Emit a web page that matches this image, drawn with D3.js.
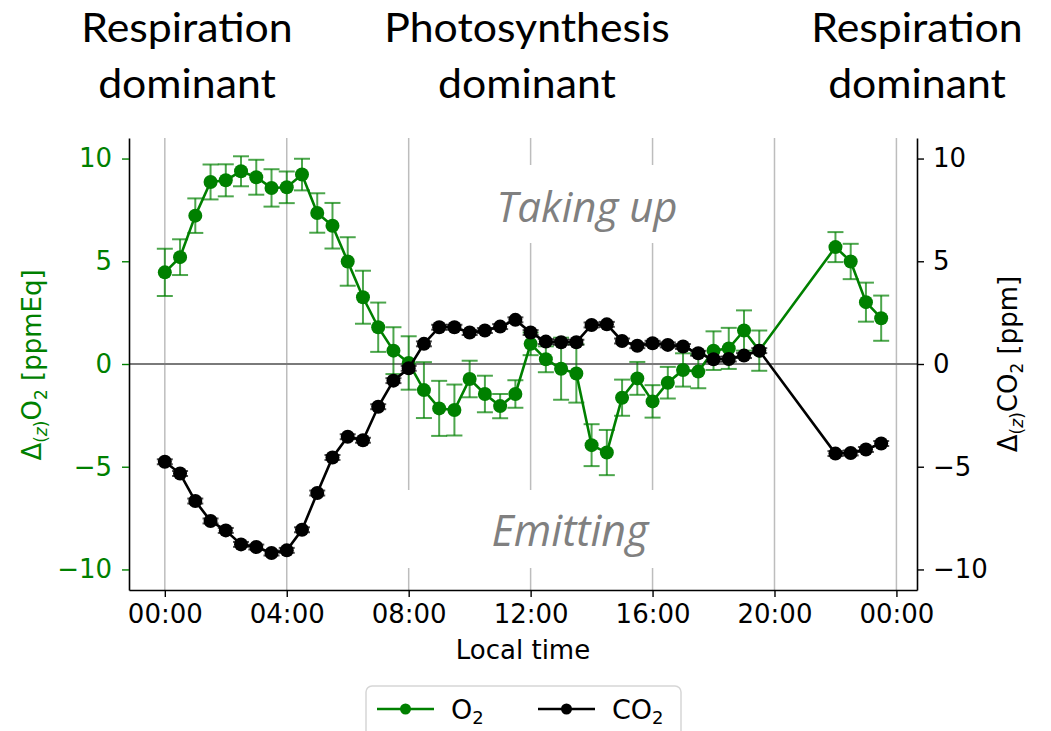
<!DOCTYPE html>
<html>
<head>
<meta charset="utf-8">
<script src="https://cdn.jsdelivr.net/npm/d3@7"></script>
<style>
  body { margin: 0; background: #fff; }
  svg { display: block; }
</style>
</head>
<body>
<svg id="chart" width="1051" height="731"></svg>
<script>
// Half-hourly vertical differences of O2 and CO2 over one day (local time, hours)
const hours = [0, 0.5, 1, 1.5, 2, 2.5, 3, 3.5, 4, 4.5, 5, 5.5, 6, 6.5, 7, 7.5, 8, 8.5, 9, 9.5,
               10, 10.5, 11, 11.5, 12, 12.5, 13, 13.5, 14, 14.5, 15, 15.5, 16, 16.5, 17, 17.5,
               18, 18.5, 19, 19.5, 22, 22.5, 23, 23.5];
const o2 = [4.46, 5.20, 7.22, 8.86, 8.94, 9.38, 9.09, 8.57, 8.60, 9.22, 7.35, 6.73, 4.99, 3.25,
            1.79, 0.65, 0.05, -1.27, -2.16, -2.24, -0.73, -1.46, -2.05, -1.46, 0.98, 0.23, -0.23,
            -0.46, -3.95, -4.31, -1.64, -0.70, -1.82, -0.91, -0.29, -0.37, 0.65, 0.76, 1.63, 0.65,
            5.69, 4.99, 3.01, 2.23];
const o2Err = [1.15, 0.87, 0.84, 0.85, 0.78, 0.73, 0.85, 0.91, 0.77, 0.77, 0.96, 1.11, 1.18, 1.29,
               1.20, 1.14, 1.30, 1.36, 1.34, 1.24, 0.89, 0.89, 0.59, 0.67, 0.55, 0.63, 1.51, 1.42,
               1.02, 1.10, 0.88, 0.80, 0.79, 0.77, 0.81, 0.81, 0.94, 1.00, 0.98, 0.98, 0.73, 0.86,
               0.95, 1.10];
const co2 = [-4.76, -5.33, -6.67, -7.64, -8.10, -8.78, -8.91, -9.20, -9.07, -8.07, -6.28, -4.55,
             -3.54, -3.71, -2.08, -0.81, -0.21, 0.98, 1.79, 1.79, 1.53, 1.63, 1.82, 2.15, 1.53, 1.09,
             1.06, 1.06, 1.90, 1.93, 1.12, 0.89, 1.01, 0.93, 0.85, 0.52, 0.23, 0.24, 0.41, 0.65,
             -4.36, -4.33, -4.16, -3.87];
const co2Err = [0.12, 0.12, 0.12, 0.12, 0.12, 0.12, 0.12, 0.12, 0.12, 0.12, 0.12, 0.12, 0.12, 0.12,
                0.12, 0.12, 0.12, 0.12, 0.12, 0.12, 0.12, 0.12, 0.12, 0.12, 0.12, 0.12, 0.12, 0.12,
                0.12, 0.12, 0.12, 0.12, 0.12, 0.12, 0.12, 0.12, 0.12, 0.12, 0.12, 0.12, 0.12, 0.12,
                0.12, 0.12];

const xTickHours = [0, 4, 8, 12, 16, 20, 24];
const xTickLabels = ["00:00", "04:00", "08:00", "12:00", "16:00", "20:00", "00:00"];
const yTickValues = [-10, -5, 0, 5, 10];

const phaseTitles = [["Respiration", "dominant"], ["Photosynthesis", "dominant"], ["Respiration", "dominant"]];
const regionLabels = ["Taking up", "Emitting"];

const GREEN = "#008000";
const AXIS_FONT = "DejaVu Sans, sans-serif";

const svg = d3.select("#chart");
const plot = { left: 129, right: 917, top: 138, bottom: 590 };

const x = d3.scaleLinear().domain([-1.175, 24.675]).range([plot.left, plot.right]);
const yL = d3.scaleLinear().domain([-11, 11]).range([plot.bottom, plot.top]);
const yR = d3.scaleLinear().domain([-11, 11]).range([plot.bottom, plot.top]);

// vertical grid at the time ticks
const grid = svg.append("g");
grid.selectAll("line").data(xTickHours).join("line")
  .attr("x1", d => x(d)).attr("x2", d => x(d))
  .attr("y1", plot.top).attr("y2", plot.bottom)
  .attr("stroke", "#bdbdbd").attr("stroke-width", 1.5);

// zero reference line
svg.append("line")
  .attr("x1", plot.left).attr("x2", plot.right)
  .attr("y1", yL(0)).attr("y2", yL(0))
  .attr("stroke", "#7a7a7a").attr("stroke-width", 2.2);

// region annotations with white backgrounds over the grid
const regions = [
  { text: regionLabels[0], cx: 587, cy: 205, size: 42, box: [470, 165, 230, 78] },
  { text: regionLabels[1], cx: 570, cy: 529, size: 43, box: [398, 490, 345, 78] }
];
regions.forEach(r => {
  svg.append("rect").attr("x", r.box[0]).attr("y", r.box[1])
    .attr("width", r.box[2]).attr("height", r.box[3]).attr("fill", "#fff");
  svg.append("text").attr("x", r.cx).attr("y", r.cy)
    .attr("text-anchor", "middle").attr("dominant-baseline", "central")
    .attr("font-family", "Open Sans, sans-serif").attr("font-style", "italic")
    .attr("font-size", r.size).attr("fill", "#808080").text(r.text);
});

// axes
const xAxis = svg.append("g").attr("transform", `translate(0,${plot.bottom})`)
  .call(d3.axisBottom(x).tickValues(xTickHours).tickFormat((d, i) => xTickLabels[i])
    .tickSize(7).tickPadding(8).tickSizeOuter(0));
xAxis.select(".domain").attr("stroke", "#000").attr("stroke-width", 1.6);
xAxis.selectAll(".tick line").attr("stroke", "#000").attr("stroke-width", 1.4);
xAxis.selectAll(".tick text").attr("font-family", AXIS_FONT).attr("font-size", 26).attr("fill", "#000");

const yAxisL = svg.append("g").attr("transform", `translate(${plot.left},0)`)
  .call(d3.axisLeft(yL).tickValues(yTickValues).tickSize(7).tickPadding(10).tickSizeOuter(0));
yAxisL.select(".domain").attr("stroke", "#000").attr("stroke-width", 1.6);
yAxisL.selectAll(".tick line").attr("stroke", GREEN).attr("stroke-width", 1.4);
yAxisL.selectAll(".tick text").attr("font-family", AXIS_FONT).attr("font-size", 26).attr("fill", GREEN);

const yAxisR = svg.append("g").attr("transform", `translate(${plot.right},0)`)
  .call(d3.axisRight(yR).tickValues(yTickValues).tickSize(7).tickPadding(9).tickSizeOuter(0));
yAxisR.select(".domain").attr("stroke", "#000").attr("stroke-width", 1.6);
yAxisR.selectAll(".tick line").attr("stroke", "#000").attr("stroke-width", 1.4);
yAxisR.selectAll(".tick text").attr("font-family", AXIS_FONT).attr("font-size", 26).attr("fill", "#000");

// axis titles
svg.append("text").attr("x", (plot.left + plot.right) / 2).attr("y", 659)
  .attr("text-anchor", "middle").attr("font-family", AXIS_FONT).attr("font-size", 26)
  .attr("fill", "#000").text("Local time");

function deltaLabel(g, gas, unit) {
  const t = g.append("text").attr("text-anchor", "middle")
    .attr("font-family", AXIS_FONT).attr("font-size", 26);
  t.append("tspan").text("Δ");
  t.append("tspan").attr("font-size", 17).attr("dy", 6).text("(");
  t.append("tspan").attr("font-size", 17).attr("font-style", "italic").text("z");
  t.append("tspan").attr("font-size", 17).text(")");
  t.append("tspan").attr("dy", -6).text(gas);
  t.append("tspan").attr("font-size", 17).attr("dy", 6).text("2");
  t.append("tspan").attr("dy", -6).text(" [" + unit + "]");
  return t;
}
deltaLabel(svg.append("g").attr("transform", "translate(41,365) rotate(-90)"), "O", "ppmEq")
  .attr("fill", GREEN);
deltaLabel(svg.append("g").attr("transform", "translate(1017,364) rotate(-90)"), "CO", "ppm")
  .attr("fill", "#000");

// series
const series = [
  { values: o2, err: o2Err, color: GREEN, errOpacity: 0.7 },
  { values: co2, err: co2Err, color: "#000", errOpacity: 0.7 }
];
series.forEach(s => {
  const pts = hours.map((h, i) => ({ h, v: s.values[i], e: s.err[i] }));
  const g = svg.append("g");
  const eb = g.append("g").attr("stroke", s.color).attr("stroke-opacity", s.errOpacity)
    .attr("stroke-width", 2);
  eb.selectAll(".stem").data(pts).join("line").attr("class", "stem")
    .attr("x1", d => x(d.h)).attr("x2", d => x(d.h))
    .attr("y1", d => yL(d.v - d.e)).attr("y2", d => yL(d.v + d.e));
  eb.selectAll(".capTop").data(pts).join("line").attr("class", "capTop")
    .attr("x1", d => x(d.h) - 8).attr("x2", d => x(d.h) + 8)
    .attr("y1", d => yL(d.v + d.e)).attr("y2", d => yL(d.v + d.e));
  eb.selectAll(".capBot").data(pts).join("line").attr("class", "capBot")
    .attr("x1", d => x(d.h) - 8).attr("x2", d => x(d.h) + 8)
    .attr("y1", d => yL(d.v - d.e)).attr("y2", d => yL(d.v - d.e));
  g.append("path").datum(pts)
    .attr("d", d3.line().x(d => x(d.h)).y(d => yL(d.v)))
    .attr("fill", "none").attr("stroke", s.color).attr("stroke-width", 2.6);
  g.selectAll("circle").data(pts).join("circle")
    .attr("cx", d => x(d.h)).attr("cy", d => yL(d.v)).attr("r", 7).attr("fill", s.color);
});

// phase titles above the plot
const titleX = [187, 527, 917];
phaseTitles.forEach((lines, i) => {
  lines.forEach((line, j) => {
    svg.append("text").attr("x", titleX[i]).attr("y", 42 + j * 56)
      .attr("text-anchor", "middle").attr("font-family", "Lato, sans-serif")
      .attr("font-size", 40).attr("fill", "#000")
      .attr("transform", `translate(${titleX[i]},0) scale(1.07,1) translate(${-titleX[i]},0)`)
      .text(line);
  });
});

// legend
const legend = svg.append("g");
legend.append("rect").attr("x", 366).attr("y", 686).attr("width", 315).attr("height", 70)
  .attr("rx", 6).attr("fill", "#fff").attr("stroke", "#d6d6d6").attr("stroke-width", 1.5);
const legendItems = [
  { x0: 377, name: "O", color: GREEN },
  { x0: 538, name: "CO", color: "#000" }
];
legendItems.forEach(it => {
  legend.append("line").attr("x1", it.x0).attr("x2", it.x0 + 57)
    .attr("y1", 709).attr("y2", 709).attr("stroke", it.color).attr("stroke-width", 2.6);
  legend.append("circle").attr("cx", it.x0 + 28.5).attr("cy", 709).attr("r", 5.5).attr("fill", it.color);
  const t = legend.append("text").attr("x", it.x0 + 74).attr("y", 719)
    .attr("font-family", AXIS_FONT).attr("font-size", 27).attr("fill", "#000");
  t.append("tspan").text(it.name);
  t.append("tspan").attr("font-size", 18).attr("dy", 5).text("2");
});
</script>
</body>
</html>
